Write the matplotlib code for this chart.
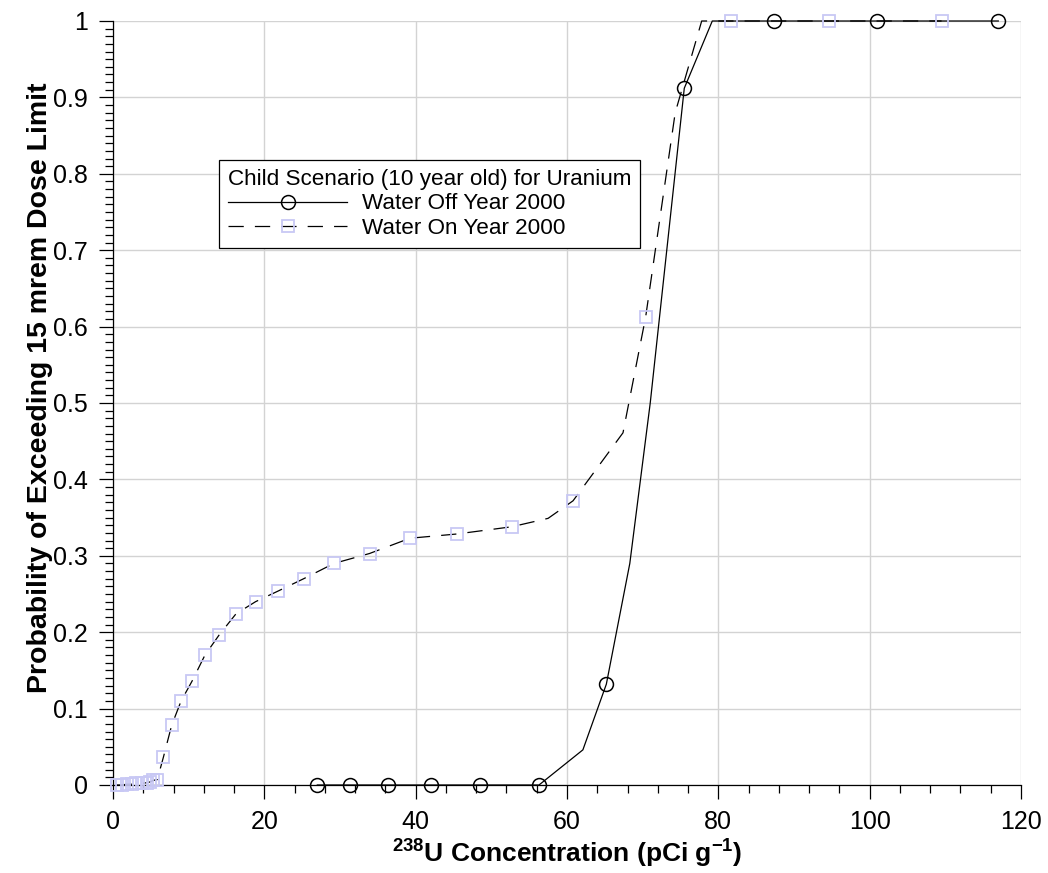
import numpy as np
import matplotlib
matplotlib.use("Agg")
import matplotlib.pyplot as plt
from matplotlib.lines import Line2D
from matplotlib.ticker import MultipleLocator

plt.rcParams['font.family'] = ['Liberation Sans', 'DejaVu Sans']
plt.rcParams['mathtext.fontset'] = 'custom'
plt.rcParams['mathtext.rm'] = 'Liberation Sans'
plt.rcParams['mathtext.bf'] = 'Liberation Sans:bold'
plt.rcParams['mathtext.default'] = 'bf'
plt.rcParams['lines.scale_dashes'] = False

# Water Off Year 2000 (solid line, circles on some of the points)
off_x = [27.0, 31.3, 36.3, 42.0, 48.5, 56.3, 62.1, 65.2, 68.3, 71.0, 75.5, 79.2, 87.3, 101.0, 117.0]
off_y = [0.0, 0.0, 0.0, 0.0, 0.0, 0.0, 0.046, 0.132, 0.29, 0.50, 0.912, 1.0, 1.0, 1.0, 1.0]
off_marked = [0, 1, 2, 3, 4, 5, 7, 10, 12, 13, 14]

# Water On Year 2000 (dashed line, squares on some of the points)
on_x = [0.5, 1.15, 1.8, 2.45, 3.1, 3.8, 4.45, 4.9, 5.3, 5.85, 6.65, 7.75, 9.0, 10.45, 12.15,
        14.0, 16.25, 18.85, 21.85, 25.2, 29.2, 33.9, 39.25, 45.4, 52.7, 57.5, 60.8, 67.4,
        70.4, 74.3, 77.8, 81.7, 94.6, 109.5]
on_y = [0.0, 0.0, 0.001, 0.001, 0.002, 0.002, 0.003, 0.004, 0.006, 0.007, 0.036, 0.078, 0.11,
        0.136, 0.17, 0.196, 0.224, 0.24, 0.254, 0.27, 0.29, 0.303, 0.323, 0.3285, 0.338, 0.349,
        0.372, 0.461, 0.613, 0.88, 1.0, 1.0, 1.0, 1.0]
on_marked = [i for i in range(len(on_x)) if i not in (25, 27, 29, 30)]

legend_title = 'Child Scenario (10 year old) for Uranium'
labels = ['Water Off Year 2000', 'Water On Year 2000']

sq_color = '#c8c8f4'

fig = plt.figure(figsize=(10.48, 8.73), dpi=100)
ax = fig.add_axes([113/1048, 1 - 785/873, 908/1048, 764/873])

ax.plot(off_x, off_y, color='black', lw=0.9, clip_on=False, zorder=3)
ax.plot([off_x[i] for i in off_marked], [off_y[i] for i in off_marked], ls='none',
        marker='o', ms=10, mfc='none', mec='black', mew=1.1, clip_on=False, zorder=4)

ax.plot(on_x, on_y, color='black', lw=0.9, dashes=(11, 8), clip_on=False, zorder=3)
ax.plot([on_x[i] for i in on_marked], [on_y[i] for i in on_marked], ls='none',
        marker='s', ms=9, mfc='none', mec=sq_color, mew=1.3, clip_on=False, zorder=4)

ax.set_xlim(0, 120)
ax.set_ylim(0, 1)
ax.xaxis.set_major_locator(MultipleLocator(20))
ax.xaxis.set_minor_locator(MultipleLocator(4))
ax.yaxis.set_minor_locator(MultipleLocator(0.01))
ax.set_yticks(np.arange(0, 1.01, 0.1))
ax.set_yticklabels(['0', '0.1', '0.2', '0.3', '0.4', '0.5', '0.6', '0.7', '0.8', '0.9', '1'])
ax.tick_params(which='major', direction='out', length=10, width=0.9, labelsize=18)
ax.tick_params(axis='x', which='major', pad=8)
ax.tick_params(axis='y', which='major', pad=8)
ax.tick_params(which='minor', direction='out', length=6, width=0.9)
ax.grid(True, which='major', color='#d3d3d3', lw=1)
ax.set_axisbelow(True)
for s in ['top', 'right']:
    ax.spines[s].set_visible(False)
for s in ['left', 'bottom']:
    ax.spines[s].set_linewidth(0.9)

ax.set_xlabel('$^{238}$U Concentration (pCi g$^{-1}$)', fontsize=19, fontweight='bold')
ax.xaxis.set_label_coords(0.5, -0.069)
ax.set_ylabel('Probability of Exceeding 15 mrem Dose Limit', fontsize=20.5, fontweight='bold')
ax.yaxis.set_label_coords(-0.066, 0.52)

handles = [
    Line2D([], [], color='black', lw=0.9, marker='o', ms=10, mfc='none', mec='black', mew=1.1),
    Line2D([], [], color='black', lw=0.9, dashes=(11, 8), marker='s', ms=9, mfc='none',
           mec=sq_color, mew=1.3),
]
leg = ax.legend(handles, labels, title=legend_title, loc='upper left',
                bbox_to_anchor=(0.1167, 0.818), borderaxespad=0, fontsize=16.2, title_fontsize=16.2,
                alignment='left', handlelength=5.3, handletextpad=0.65, fancybox=False,
                framealpha=1, edgecolor='black', labelspacing=0.15, borderpad=0.4)
leg.get_frame().set_linewidth(0.9)

fig.savefig('out.png', dpi=100)
